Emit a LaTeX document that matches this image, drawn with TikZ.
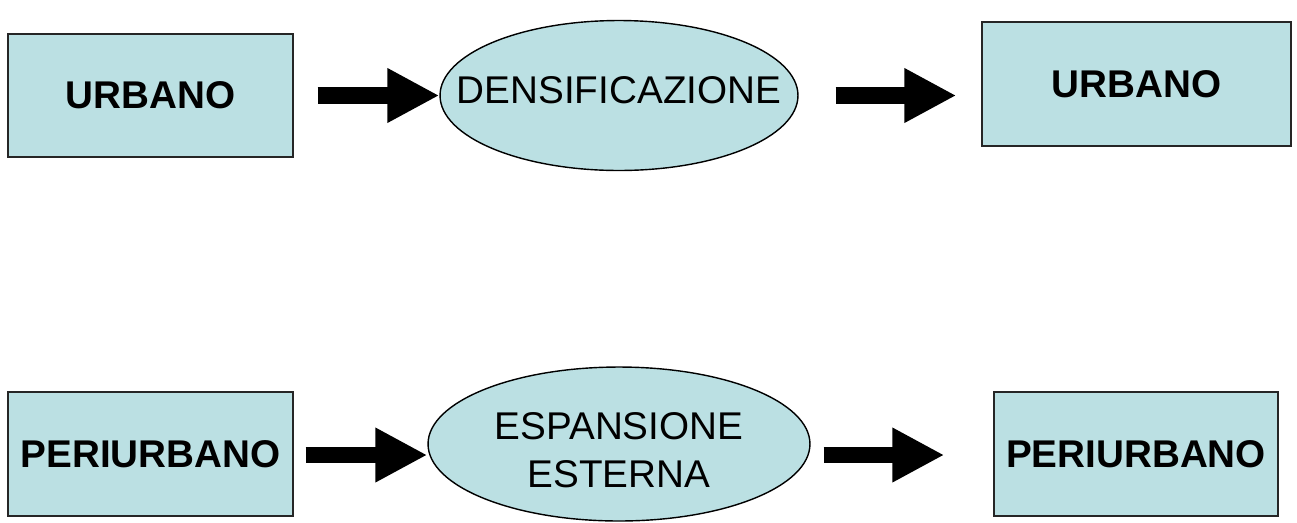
\documentclass[tikz,border=0pt]{standalone}
\usepackage{fontspec}
\setmainfont{Liberation Sans}
\usepackage{xcolor}
\usetikzlibrary{shapes.geometric,arrows.meta,positioning}
\definecolor{ppfill}{HTML}{BBE0E3}

\begin{document}
\begin{tikzpicture}[
  x=0.02cm, y=-0.02cm,
  every node/.style={font=\fontsize{22}{27}\selectfont},
  areabox/.style={rectangle, draw=black!85, line width=0.8pt, fill=ppfill, inner sep=0pt, font=\fontsize{22}{27}\selectfont\bfseries},
  process/.style={ellipse, draw=black, line width=0.8pt, fill=ppfill, inner sep=0pt},
  blockarr/.style={-{Triangle[length=1.04cm, width=1.02cm]}, line width=0.33cm, black}
]
\useasboundingbox (0,0) rectangle (1297,522);

% Top row: urbano
\node[areabox, minimum width=5.7cm, minimum height=2.46cm] (urb1) at (150.5, 95.5) {URBANO};
\node[process, minimum width=7.16cm, minimum height=3cm,
  label={[yshift=0.1cm]center:DENSIFICAZIONE}] (dens) at (619, 95.5) {};
\node[areabox, minimum width=6.18cm, minimum height=2.48cm] (urb2) at (1136.5, 84) {URBANO};

% Bottom row: periurbano
\node[areabox, minimum width=5.7cm, minimum height=2.48cm] (peri1) at (150.5, 454) {PERIURBANO};
\node[process, minimum width=7.64cm, minimum height=3.08cm,
  label={[yshift=-0.12cm, align=center]center:ESPANSIONE\\ESTERNA}] (esp) at (619, 444) {};
\node[areabox, minimum width=5.68cm, minimum height=2.48cm] (peri2) at (1136, 454) {PERIURBANO};

% Arrows
\draw[blockarr, shorten <=0.48cm] (urb1.east) -- (dens.west);
\draw[blockarr, shorten <=0.74cm, shorten >=0.5cm] (dens.east) -- (dens.east -| urb2.west);
\draw[blockarr, shorten <=0.24cm] ([yshift=-0.02cm]peri1.east) -- ([yshift=-0.02cm]peri1.east -| esp.west);
\draw[blockarr, shorten <=0.26cm, shorten >=0.98cm] ([yshift=-0.02cm]esp.east |- peri2.west) -- ([yshift=-0.02cm]peri2.west);

\end{tikzpicture}
\end{document}
